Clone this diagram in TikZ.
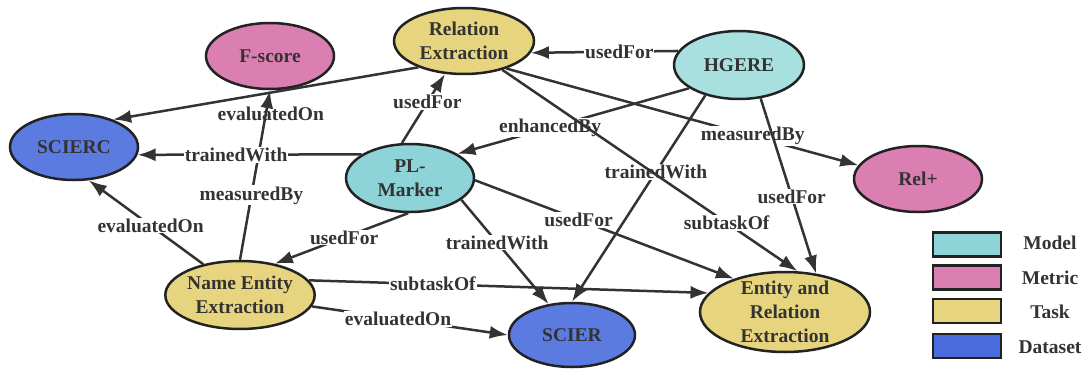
\documentclass[tikz,border=0pt]{standalone}
\usepackage{fontspec}
\setmainfont{Liberation Serif}
\usetikzlibrary{shapes.geometric,arrows.meta}
\definecolor{modelc}{HTML}{8DD3D8}
\definecolor{modelcl}{HTML}{A8E0E0}
\definecolor{metricc}{HTML}{DB7FB2}
\definecolor{taskc}{HTML}{E6D47E}
\definecolor{datac}{HTML}{5B7BE0}
\definecolor{datacl}{HTML}{4A6BDC}
\definecolor{ink}{HTML}{333333}
\definecolor{bord}{HTML}{222222}
\begin{document}
\begin{tikzpicture}[x=1pt,y=-1pt,
  ent/.style={ellipse, draw=bord, line width=2.5pt, inner sep=0pt, align=center, text=ink,
    font=\fontsize{19.5}{24}\selectfont\bfseries},
  rel/.style={draw=ink, line width=2.5pt, -{Latex[length=18pt,width=13pt]}},
  lab/.style={fill=white, inner sep=1pt, text=ink, font=\fontsize{19.5}{24}\selectfont\bfseries},
  legbox/.style={draw=bord, line width=2.5pt, minimum width=68pt, minimum height=24pt, inner sep=0pt},
  legtext/.style={text=ink, inner sep=0pt, font=\fontsize{19.5}{24}\selectfont\bfseries}
]
\useasboundingbox (0,0) rectangle (1085,370);

% entity nodes
\node[ent, fill=metricc, minimum width=128pt, minimum height=66pt] (FS) at (270,56) {F-score};
\node[ent, fill=taskc, minimum width=140pt, minimum height=66pt] (RE) at (464,41) {Relation\\Extraction};
\node[ent, fill=datac, minimum width=128pt, minimum height=66pt] (SCIERC) at (74,147) {SCIERC};
\node[ent, fill=modelc, minimum width=128pt, minimum height=68pt] (PL) at (410,178) {PL-\\Marker};
\node[ent, fill=modelcl, minimum width=130pt, minimum height=68pt] (HG) at (739,65) {HGERE};
\node[ent, fill=metricc, minimum width=128pt, minimum height=66pt] (RP) at (918,179) {Rel+};
\node[ent, fill=taskc, minimum width=148pt, minimum height=68pt] (NEE) at (240,295) {Name Entity\\Extraction};
\node[ent, fill=datac, minimum width=126pt, minimum height=64pt] (SCIER) at (572,335) {SCIER};
\node[ent, fill=taskc, minimum width=170pt, minimum height=80pt, inner ysep=-8pt] (ERE) at (785,312) {Entity and\\Relation\\Extraction};

% connectors
\draw[rel] (NEE.90) -- node[lab,pos=0.38]{measuredBy} node[lab,fill=none,pos=0.86,xshift=5pt]{evaluatedOn} (FS.270);
\draw[rel] (RE.210) -- (SCIERC.35);
\draw[rel] (HG.167) -- node[lab,pos=0.40]{usedFor} (RE.350);
\draw[rel] (HG.205) -- node[lab,pos=0.60]{enhancedBy} (PL.27);
\draw[rel] (PL.103) -- node[lab,pos=0.59]{usedFor} (RE.240);
\draw[rel] (PL.154) -- node[lab,pos=0.56]{trainedWith} (SCIERC.353);
\draw[rel] (NEE.140) -- node[lab,pos=0.46]{evaluatedOn} (SCIERC.294);
\draw[rel] (PL.267) -- node[lab,pos=0.48]{usedFor} (NEE.42);
\draw[rel] (NEE.12) -- node[lab,pos=0.31]{subtaskOf} (ERE.166);
\draw[rel] (NEE.351) -- node[lab,pos=0.44]{evaluatedOn} (SCIER.180);
\draw[rel] (PL.337) -- node[lab,pos=0.41]{trainedWith} (SCIER.127);
\draw[rel] (PL.358) -- node[lab,pos=0.40]{usedFor} (ERE.147);
\draw[rel] (HG.222) -- node[lab,pos=0.37]{trainedWith} (SCIER.90);
\draw[rel] (RE.327) -- node[lab,pos=0.70]{measuredBy} (RP.167);
\draw[rel] (RE.323) -- node[lab,pos=0.76]{subtaskOf} (ERE.73);
\draw[rel] (HG.303) -- node[lab,pos=0.56]{usedFor} (ERE.51);

% legend
\node[legbox, fill=modelc] (lgM) at (967,244.5) {};
\node[legbox, fill=metricc] (lgMe) at (967,277.5) {};
\node[legbox, fill=taskc] (lgT) at (967,311) {};
\node[legbox, fill=datacl] (lgD) at (967,346) {};
\node[legtext] (ltM) at (1050,243) {Model};
\node[legtext] (ltMe) at (1050,278) {Metric};
\node[legtext] (ltT) at (1050,312) {Task};
\node[legtext] (ltD) at (1050,347) {Dataset};
\end{tikzpicture}
\end{document}
